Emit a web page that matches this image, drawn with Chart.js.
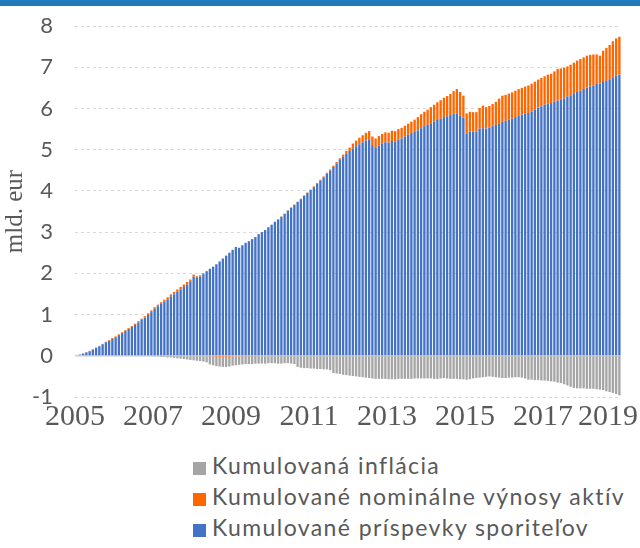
<!DOCTYPE html>
<html lang="sk">
<head>
<meta charset="utf-8">
<script src="https://cdn.jsdelivr.net/npm/chart.js@4.4.1/dist/chart.umd.min.js"></script>
<style>
  html, body { margin: 0; padding: 0; background: #fff; }
  body { width: 640px; height: 548px; position: relative; overflow: hidden; }
  .topbar { position: absolute; left: 0; top: 0; width: 640px; height: 6px; background: #1f7bba; }
  .wrap { position: absolute; left: 0; top: 0; width: 640px; height: 440px; }
  .legend { position: absolute; left: 193px; top: 450px; font-family: Lato, sans-serif; font-size: 23px; letter-spacing: 1.4px; color: #595959; }
  .legend div { height: 31px; line-height: 30px; white-space: nowrap; }
  .legend span { display: inline-block; width: 13px; height: 13px; margin-right: 6px; vertical-align: -1px; }
</style>
</head>
<body>
<div class="topbar"></div>
<div class="wrap"><canvas id="chart" width="640" height="440"></canvas></div>
<div class="legend" id="legend"></div>
<script>
const startYear = 2005;
const yearTicks = ['2005', '2007', '2009', '2011', '2013', '2015', '2017', '2019'];

// monthly values, mld. eur (Jan 2005 - Dec 2018)
const contributions = [
  0.01, 0.03, 0.05, 0.08, 0.11, 0.15, 0.19, 0.23, 0.28, 0.33, 0.36, 0.41,
  0.45, 0.50, 0.55, 0.60, 0.65, 0.70, 0.75, 0.81, 0.87, 0.93, 0.99, 1.06,
  1.14, 1.20, 1.26, 1.31, 1.37, 1.44, 1.49, 1.55, 1.61, 1.67, 1.73, 1.79,
  1.92, 1.89, 1.92, 1.98, 2.05, 2.11, 2.16, 2.22, 2.29, 2.36, 2.43, 2.50,
  2.57, 2.64, 2.62, 2.68, 2.74, 2.78, 2.83, 2.88, 2.95, 3.00, 3.05, 3.12,
  3.18, 3.25, 3.31, 3.37, 3.44, 3.52, 3.59, 3.66, 3.73, 3.80, 3.88, 3.95,
  4.02, 4.09, 4.17, 4.25, 4.33, 4.42, 4.49, 4.58, 4.66, 4.75, 4.83, 4.91,
  4.97, 5.03, 5.08, 5.13, 5.18, 5.22, 5.25, 5.11, 5.04, 5.10, 5.14, 5.18,
  5.17, 5.21, 5.20, 5.24, 5.27, 5.32, 5.36, 5.40, 5.43, 5.47, 5.52, 5.57,
  5.60, 5.64, 5.68, 5.72, 5.75, 5.79, 5.81, 5.84, 5.87, 5.88, 5.83, 5.78,
  5.38, 5.44, 5.44, 5.44, 5.51, 5.52, 5.51, 5.53, 5.57, 5.60, 5.64, 5.68,
  5.70, 5.73, 5.75, 5.79, 5.83, 5.85, 5.87, 5.89, 5.93, 5.97, 6.02, 6.05,
  6.09, 6.12, 6.13, 6.16, 6.19, 6.21, 6.24, 6.29, 6.32, 6.36, 6.40, 6.43,
  6.47, 6.51, 6.53, 6.55, 6.59, 6.60, 6.64, 6.67, 6.69, 6.74, 6.79, 6.82
];

const returns = [
  0.00, 0.00, 0.01, 0.01, 0.01, 0.01, 0.01, 0.01, 0.01, 0.01, 0.02, 0.02,
  0.02, 0.02, 0.02, 0.02, 0.02, 0.02, 0.03, 0.03, 0.03, 0.03, 0.04, 0.04,
  0.04, 0.04, 0.04, 0.05, 0.05, 0.05, 0.06, 0.06, 0.06, 0.06, 0.06, 0.06,
  0.05, 0.04, 0.03, 0.02, 0.01, -0.01, -0.02, -0.03, -0.03, -0.04, -0.03, -0.03,
  -0.02, -0.02, -0.02, -0.01, -0.01, -0.01, -0.01, -0.01, -0.01, 0.00, 0.00, 0.00,
  0.00, 0.00, 0.00, 0.01, 0.01, 0.01, 0.01, 0.01, 0.01, 0.01, 0.01, 0.01,
  0.01, 0.02, 0.02, 0.02, 0.02, 0.02, 0.03, 0.03, 0.04, 0.04, 0.05, 0.06,
  0.08, 0.12, 0.14, 0.16, 0.17, 0.19, 0.20, 0.21, 0.23, 0.23, 0.24, 0.24,
  0.24, 0.25, 0.25, 0.26, 0.26, 0.26, 0.27, 0.28, 0.30, 0.32, 0.34, 0.35,
  0.37, 0.39, 0.41, 0.43, 0.45, 0.47, 0.49, 0.51, 0.55, 0.59, 0.57, 0.53,
  0.50, 0.48, 0.47, 0.47, 0.50, 0.55, 0.52, 0.53, 0.54, 0.56, 0.60, 0.63,
  0.63, 0.63, 0.64, 0.64, 0.64, 0.65, 0.66, 0.67, 0.67, 0.68, 0.68, 0.69,
  0.69, 0.70, 0.71, 0.74, 0.77, 0.76, 0.75, 0.73, 0.74, 0.75, 0.76, 0.77,
  0.77, 0.77, 0.77, 0.76, 0.72, 0.68, 0.76, 0.80, 0.85, 0.89, 0.91, 0.92
];

const inflation = [
  0.00, 0.00, 0.00, 0.00, 0.00, 0.00, 0.00, 0.00, 0.00, 0.00, 0.00, 0.00,
  0.00, 0.00, 0.00, 0.00, 0.00, 0.00, 0.00, 0.00, -0.01, -0.01, -0.01, -0.01,
  -0.02, -0.02, -0.03, -0.03, -0.04, -0.04, -0.05, -0.06, -0.07, -0.08, -0.09, -0.10,
  -0.11, -0.12, -0.13, -0.14, -0.16, -0.20, -0.21, -0.22, -0.23, -0.23, -0.24, -0.23,
  -0.22, -0.21, -0.20, -0.20, -0.19, -0.19, -0.19, -0.18, -0.18, -0.19, -0.19, -0.18,
  -0.18, -0.18, -0.19, -0.19, -0.18, -0.18, -0.19, -0.20, -0.27, -0.29, -0.30, -0.30,
  -0.31, -0.31, -0.32, -0.32, -0.33, -0.33, -0.35, -0.42, -0.43, -0.44, -0.46, -0.47,
  -0.48, -0.49, -0.50, -0.51, -0.52, -0.53, -0.54, -0.55, -0.56, -0.56, -0.56, -0.56,
  -0.57, -0.57, -0.57, -0.56, -0.56, -0.56, -0.56, -0.56, -0.55, -0.55, -0.55, -0.55,
  -0.55, -0.55, -0.56, -0.56, -0.55, -0.54, -0.55, -0.56, -0.56, -0.56, -0.57, -0.57,
  -0.58, -0.57, -0.55, -0.54, -0.53, -0.52, -0.51, -0.50, -0.51, -0.52, -0.53, -0.54,
  -0.54, -0.53, -0.53, -0.52, -0.52, -0.53, -0.55, -0.58, -0.58, -0.59, -0.59, -0.60,
  -0.60, -0.61, -0.62, -0.63, -0.65, -0.66, -0.69, -0.72, -0.75, -0.78, -0.79, -0.79,
  -0.79, -0.80, -0.80, -0.80, -0.81, -0.82, -0.83, -0.86, -0.88, -0.90, -0.93, -0.96
];

const seriesLabels = [
  'Kumulované príspevky sporiteľov',
  'Kumulované nominálne výnosy aktív',
  'Kumulovaná inflácia'
];
const seriesColors = ['#4472c4', '#ff6600', '#a5a5a5'];

// month positions on the year axis
const months = contributions.map((_, i) => startYear + (i + 0.5) / 12);

const textColor = '#595959';

const zeroLine = {
  id: 'zeroLine',
  beforeDatasetsDraw(chart) {
    const { ctx, chartArea, scales } = chart;
    const y = scales.y.getPixelForValue(0);
    ctx.save();
    ctx.strokeStyle = '#d9d9d9';
    ctx.lineWidth = 2;
    ctx.beginPath();
    ctx.moveTo(chartArea.left, y);
    ctx.lineTo(chartArea.right, y);
    ctx.stroke();
    ctx.restore();
  }
};

// year labels, last one kept inside the canvas like the original
const yearLabels = {
  id: 'yearLabels',
  afterDraw(chart) {
    const { ctx, scales } = chart;
    ctx.save();
    ctx.font = '30px "Liberation Serif", serif';
    ctx.fillStyle = textColor;
    ctx.textBaseline = 'middle';
    ctx.textAlign = 'center';
    yearTicks.forEach((label) => {
      const w = ctx.measureText(label).width;
      let x = scales.x.getPixelForValue(Number(label));
      if (x + w / 2 > chart.width - 2) x = chart.width - 2 - w / 2;
      ctx.fillText(label, x, 417);
    });
    ctx.restore();
  }
};

new Chart(document.getElementById('chart'), {
  type: 'bar',
  data: {
    labels: months,
    datasets: [
      { label: seriesLabels[0], data: contributions, backgroundColor: seriesColors[0] },
      { label: seriesLabels[1], data: returns, backgroundColor: seriesColors[1] },
      { label: seriesLabels[2], data: inflation, backgroundColor: seriesColors[2] }
    ]
  },
  options: {
    responsive: false,
    animation: false,
    events: [],
    datasets: {
      bar: { categoryPercentage: 1, barPercentage: 0.72, borderWidth: 0 }
    },
    layout: { padding: { left: 0, top: 26, right: 19, bottom: 43 } },
    plugins: {
      legend: { display: false },
      tooltip: { enabled: false }
    },
    scales: {
      x: {
        type: 'linear',
        display: false,
        offset: false,
        stacked: true,
        min: 2005,
        max: 2019
      },
      y: {
        stacked: true,
        min: -1,
        max: 8,
        afterFit(scale) {
          scale.width = 75;
          scale.paddingTop = 0;
          scale.paddingBottom = 0;
        },
        ticks: {
          stepSize: 1,
          padding: 22,
          color: textColor,
          font: { family: 'Lato, sans-serif', size: 22 }
        },
        grid: { color: '#d9d9d9', drawTicks: false, lineWidth: 1 },
        border: { display: false, dash: [3, 3] },
        title: {
          display: true,
          text: 'mld. eur',
          color: textColor,
          padding: { top: 0, bottom: 0 },
          font: { family: '"Liberation Serif", serif', size: 25 }
        }
      }
    }
  },
  plugins: [zeroLine, yearLabels]
});

// legend in the original's order (inflation first)
const legend = document.getElementById('legend');
[2, 1, 0].forEach((k) => {
  const row = document.createElement('div');
  row.innerHTML = `<span style="background:${seriesColors[k]}"></span>${seriesLabels[k]}`;
  legend.appendChild(row);
});
</script>
</body>
</html>
